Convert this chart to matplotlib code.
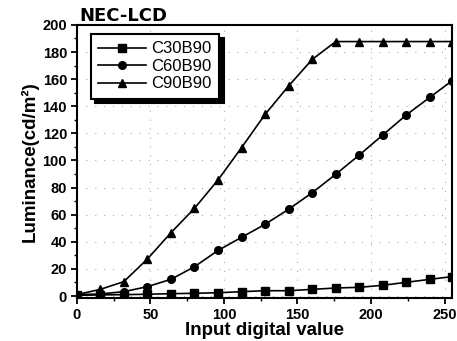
import matplotlib
matplotlib.use("Agg")
import matplotlib.pyplot as plt
from matplotlib.ticker import MultipleLocator

plt.rcParams['font.family'] = ['Liberation Sans', 'DejaVu Sans']

x_values = [0, 16, 32, 48, 64, 80, 96, 112, 128, 144, 160, 176, 192, 208, 224, 240, 255]
c30b90 = [0.5, 0.8, 1.0, 1.3, 1.7, 2.0, 2.4, 3.2, 3.9, 3.9, 4.9, 5.9, 6.4, 7.9, 10.1, 12.3, 14.3]
c60b90 = [1.0, 1.5, 3.2, 6.9, 12.3, 21.6, 33.6, 43.3, 52.9, 64.0, 76.2, 89.8, 104.0, 118.8, 133.6, 146.6, 158.7]
c90b90 = [1.0, 4.9, 10.6, 27.3, 46.7, 64.7, 85.6, 109.5, 134.0, 155.0, 174.5, 187.7, 187.7, 187.7, 187.7, 187.7, 187.7]
series_names = ["C30B90", "C60B90", "C90B90"]
markers = ["s", "o", "^"]

fig = plt.figure(figsize=(4.57, 3.41), dpi=100)
ax = fig.add_axes([0.168, 0.126, 0.821, 0.801])

for ys, name, m in zip([c30b90, c60b90, c90b90], series_names, markers):
    ax.plot(x_values, ys, color="black", lw=1.2, marker=m, ms=5.5, label=name)

ax.set_xlim(0, 255)
ax.set_ylim(-1.5, 200)
ax.xaxis.set_major_locator(MultipleLocator(50))
ax.xaxis.set_minor_locator(MultipleLocator(25))
ax.yaxis.set_major_locator(MultipleLocator(20))
ax.yaxis.set_minor_locator(MultipleLocator(10))
ax.tick_params(which="major", direction="out", length=4.5, width=1.3, labelsize=10.5, pad=2.5)
ax.tick_params(which="minor", direction="out", length=2.5, width=1.0)
for lab in ax.get_xticklabels() + ax.get_yticklabels():
    lab.set_fontweight("bold")
for s in ax.spines.values():
    s.set_linewidth(1.5)

ax.grid(True, which="major", color="#aaaaaa", linestyle=(0, (1, 7)), linewidth=0.8)

ax.set_xlabel("Input digital value", fontsize=13.5, fontweight="bold", labelpad=0)
ax.set_ylabel("Luminance(cd/m²)", fontsize=13.5, fontweight="bold", labelpad=3)
ax.set_title("NEC-LCD", fontsize=13, fontweight="bold", loc="left", pad=3,
             family="DejaVu Sans", x=0.008)

leg = ax.legend(loc="upper left", bbox_to_anchor=(0.037, 0.967), frameon=True,
                fontsize=12, handlelength=2.9, handletextpad=0.3, borderpad=0.45,
                labelspacing=0.15, borderaxespad=0.0,
                fancybox=False, shadow={'color': 'black', 'alpha': 1.0, 'ox': 3, 'oy': -3})
leg.get_frame().set_edgecolor("black")
leg.get_frame().set_linewidth(1.5)
leg.get_frame().set_alpha(1.0)

fig.savefig("out.png", dpi=100)
